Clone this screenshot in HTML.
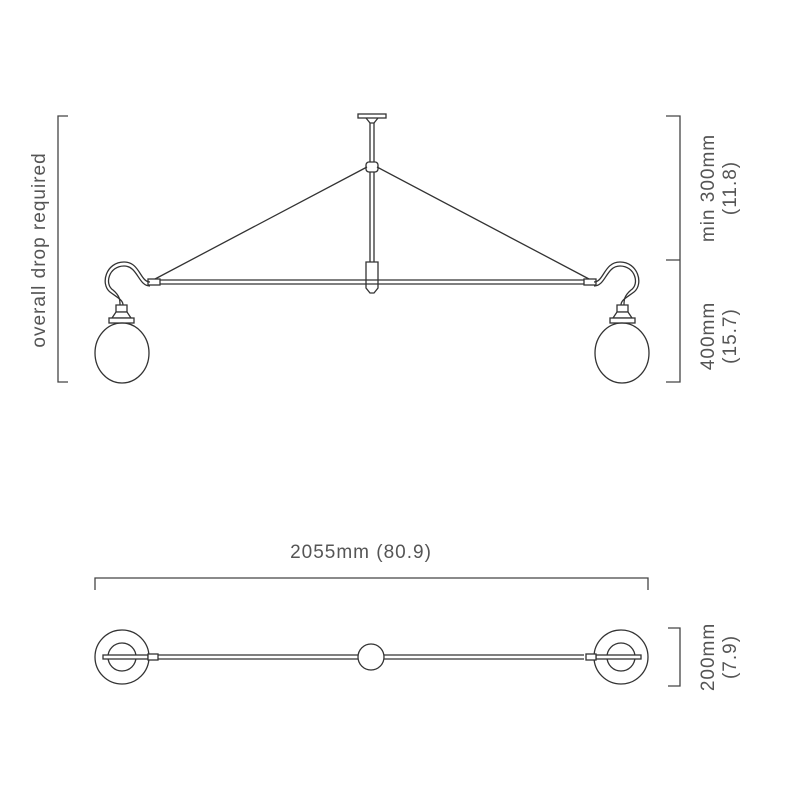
<!DOCTYPE html>
<html><head><meta charset="utf-8"><style>
html,body{margin:0;padding:0;background:#fff;}
svg{display:block}
text{font-family:"Liberation Sans",sans-serif;font-size:19px;fill:#555;letter-spacing:1px;}
</style></head><body>
<svg width="800" height="800" viewBox="0 0 800 800" xmlns="http://www.w3.org/2000/svg">
<g fill="none" stroke="#333" stroke-width="1.3">
<path d="M68 116 H58 V382 H68" stroke="#444"/>
<path d="M666 116 H680 V382 H666 M666 260 H680" stroke="#444"/>
<path d="M95 590 V578 H648 V590" stroke="#444"/>
<path d="M668 628 H680 V686 H668" stroke="#444"/>

<rect x="358" y="114" width="28" height="4" fill="#fff"/>
<path d="M366 118 L370 123 L374 123 L378 118"/>
<path d="M370 123 V262 M374 123 V262"/>
<rect x="366" y="162" width="12" height="10" rx="3" fill="#fff"/>
<path d="M366 262 H378 V288 L374 293 H370 L366 288 Z" fill="#fff"/>
<path d="M150 280 H594 M150 284 H594"/>
<rect x="148" y="279" width="12" height="6" fill="#fff"/>
<rect x="584" y="279" width="12" height="6" fill="#fff"/>
<path d="M155 279 L367 167 M377 167 L589 279"/>
<path d="M150 282 C140 282 140 262 124 262 C106 262 100 284 110 292 C118 298 123 300 123 305"/>
<path d="M150 286 C138 286 138 266 124 266 C109 266 104 284 113 290 C120 296 120 300 120 305"/>
<path d="M116 305 H127 V312 H116 Z" fill="#fff"/>
<path d="M112 318 L116 312 H127 L131 318 Z" fill="#fff"/>
<rect x="109" y="318" width="25" height="5" fill="#fff"/>
<ellipse cx="122" cy="353" rx="27" ry="30"/>
<g transform="translate(744 0) scale(-1 1)">
<path d="M150 282 C140 282 140 262 124 262 C106 262 100 284 110 292 C118 298 123 300 123 305"/>
<path d="M150 286 C138 286 138 266 124 266 C109 266 104 284 113 290 C120 296 120 300 120 305"/>
<path d="M116 305 H127 V312 H116 Z" fill="#fff"/>
<path d="M112 318 L116 312 H127 L131 318 Z" fill="#fff"/>
<rect x="109" y="318" width="25" height="5" fill="#fff"/>
<ellipse cx="122" cy="353" rx="27" ry="30"/>
</g>

<circle cx="122" cy="657" r="27"/>
<circle cx="122" cy="657" r="14"/>
<circle cx="621" cy="657" r="27"/>
<circle cx="621" cy="657" r="14"/>
<path d="M158 655 H358 M158 659 H358 M384 655 H584 M384 659 H584"/>
<rect x="103" y="655" width="45" height="4" fill="#fff"/>
<rect x="148" y="654" width="10" height="6" fill="#fff"/>
<rect x="596" y="655" width="45" height="4" fill="#fff"/>
<rect x="586" y="654" width="10" height="6" fill="#fff"/>
<circle cx="371" cy="657" r="13" fill="#fff"/>
</g>

<text x="361" y="558" text-anchor="middle">2055mm (80.9)</text>
<text transform="translate(45 250) rotate(-90)" text-anchor="middle">overall drop required</text>
<text transform="translate(714 188) rotate(-90)" text-anchor="middle">min 300mm</text>
<text transform="translate(736 188) rotate(-90)" text-anchor="middle">(11.8)</text>
<text transform="translate(714 336) rotate(-90)" text-anchor="middle">400mm</text>
<text transform="translate(736 336) rotate(-90)" text-anchor="middle">(15.7)</text>
<text transform="translate(714 657) rotate(-90)" text-anchor="middle">200mm</text>
<text transform="translate(736 657) rotate(-90)" text-anchor="middle">(7.9)</text>
</svg>
</body></html>
